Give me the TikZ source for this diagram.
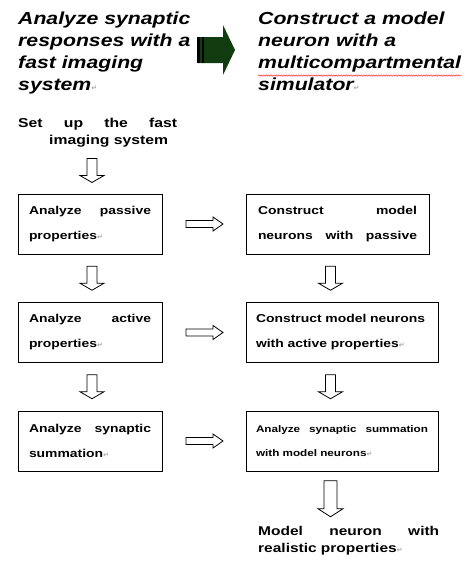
\documentclass[tikz,border=0pt]{standalone}
\usepackage{fontspec}
\setmainfont{Liberation Sans}[FakeStretch=1.22]
\newfontfamily\symfont{DejaVu Sans}
\usepackage{xcolor}
\usetikzlibrary{calc,decorations.pathmorphing}

\definecolor{darkgreen}{RGB}{16,60,16}
\newcommand{\retmark}{{\symfont\fontsize{7}{7}\selectfont\textcolor{gray!70}{↵}}}
\newcommand{\jline}[1]{\makebox[\linewidth][s]{\spaceskip=0.28em plus 1fil\relax #1}}

\begin{document}
\begin{tikzpicture}[x=1pt, y=-1pt,
  box/.style={draw, line width=1pt, minimum height=60, align=left,
    font=\fontsize{11.4}{25}\selectfont\bfseries},
  title/.style={anchor=north west, inner sep=0, align=left,
    font=\fontsize{17.4}{22}\selectfont\bfseries\itshape},
  plain/.style={anchor=north west, inner sep=0, align=left,
    font=\fontsize{12.9}{17}\selectfont\bfseries},
  dnarrow/.pic={\draw[fill=white, line width=0.8pt] (-5,-12) -- (5,-12) -- (5,5) -- (12,5)
    -- (0,12) -- (-12,5) -- (-5,5) -- cycle;},
  endarrow/.pic={\draw[fill=white, line width=0.8pt] (-6.5,-18) -- (6.5,-18) -- (6.5,10) -- (12.5,10)
    -- (0,18) -- (-12.5,10) -- (-6.5,10) -- cycle;},
  rtarrow/.pic={\draw[fill=white, line width=0.8pt] (-18,-3.5) -- (9,-3.5) -- (9,-7) -- (19,0)
    -- (9,7) -- (9,3.5) -- (-18,3.5) -- cycle;},
  bigarrow/.pic={
    \fill[darkgreen] (-18.7,-13) -- (7,-13) -- (7,-25) -- (19,0) -- (7,25) -- (7,13) -- (-18.7,13) -- cycle;
    \fill[black] (-18.7,-13) rectangle (-16,13);
    \fill[black] (-14,-13) rectangle (-12,13);}]
  \useasboundingbox (0,0) rectangle (472,574);

  % Headings
  \node[title] (titleL) at (18,12) {Analyze synaptic\\responses with a\\fast imaging\\system\retmark};
  \node[title] (titleR) at (258,12) {Construct a model\\neuron with a\\multicompartmental\\simulator\retmark};
  \coordinate (gmid) at (216,50);
  \pic at (gmid) {bigarrow};
  \draw[red, line width=0.4pt, decorate, decoration={snake, amplitude=0.7pt, segment length=2.5pt}]
    ($(titleR.north west)+(0,63.5)$) -- ++(204,0);

  % Left column
  \node[plain, text width=159] (setup) at (18,118) {\jline{Set up the fast}\\\hspace*{31pt}imaging system};
  \node[box, text width=122, inner xsep=11] (a1) at (90,224) {\jline{Analyze passive}\\properties\retmark};
  \node[box, text width=122, inner xsep=11] (a2) at (90,332.5) {\jline{Analyze active}\\properties\retmark};
  \node[box, text width=122, inner xsep=11] (a3) at (90,441) {\jline{Analyze synaptic}\\summation\retmark};

  % Right column
  \node[box, text width=159, inner xsep=12] (c1) at (337.5,224) {\jline{Construct model}\\\jline{neurons with passive}};
  \node[box, text width=172, inner xsep=10] (c2) at (342,332.5) {Construct model neurons\\with active properties\retmark};
  \node[box, text width=172, inner xsep=10, font=\fontsize{9.6}{24}\selectfont\bfseries] (c3) at (342,441)
    {\jline{Analyze synaptic summation}\\with model neurons\retmark};
  \node[plain, text width=181, font=\fontsize{12.7}{17}\selectfont\bfseries] (final) at (258,526)
    {\jline{Model neuron with}\\realistic properties\retmark};

  % Block arrows
  \pic at ($(a1.north |- setup.south)!.5!(a1.north)+(2,0)$) {dnarrow};
  \pic at ($(a1.south)!.5!(a2.north)+(2,0)$) {dnarrow};
  \pic at ($(a2.south)!.5!(a3.north)+(2,0)$) {dnarrow};
  \pic at ($(c1.south west)!.5!(c2.north west)+(85,0)$) {dnarrow};
  \pic at ($(c2.south west)!.5!(c3.north west)+(85,0)$) {dnarrow};
  \pic at ($(c3.south west |- c3.south)!.5!(c3.south west |- final.north)+(85,0)$) {endarrow};
  \pic at ($(a1.east)!.5!(c1.west)$) {rtarrow};
  \pic at ($(a2.east)!.5!(c2.west)$) {rtarrow};
  \pic at ($(a3.east)!.5!(c3.west)$) {rtarrow};
\end{tikzpicture}
\end{document}
